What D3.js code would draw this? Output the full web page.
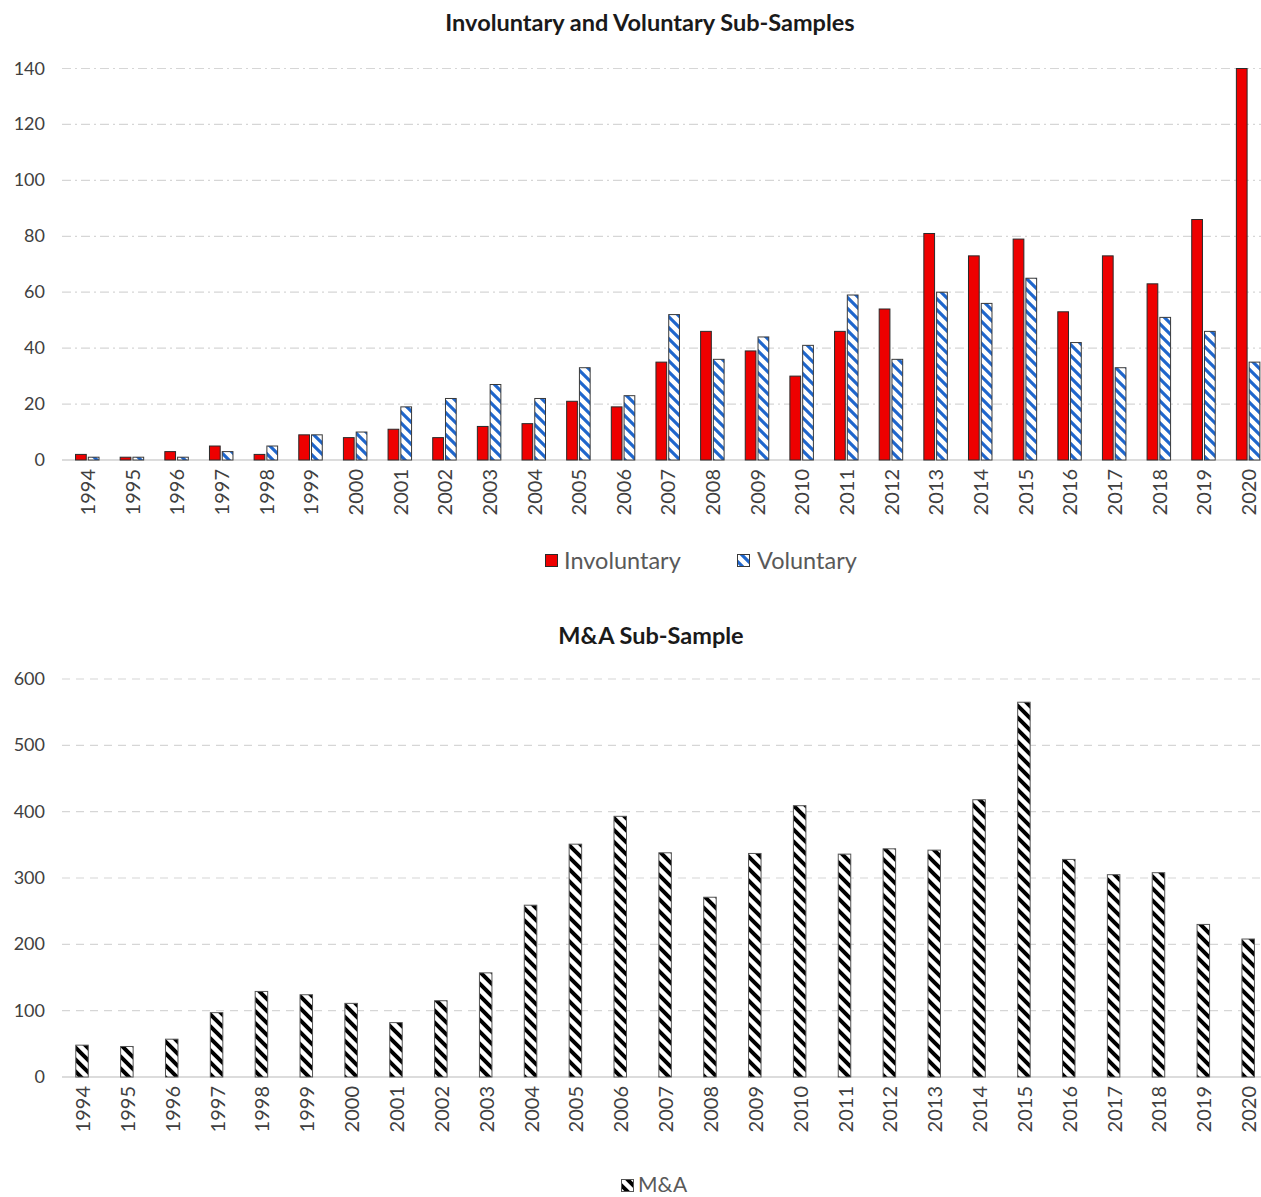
<!DOCTYPE html>
<html>
<head>
<meta charset="utf-8">
<script src="https://cdn.jsdelivr.net/npm/d3@7"></script>
<style>
  body { margin: 0; background: #ffffff; }
  text { font-family: Lato, 'Open Sans', sans-serif; }
</style>
</head>
<body>
<div id="visArea"></div>
<script>

var years = ['1994','1995','1996','1997','1998','1999','2000','2001','2002','2003','2004','2005','2006','2007',
             '2008','2009','2010','2011','2012','2013','2014','2015','2016','2017','2018','2019','2020'];

var involuntary = [2, 1, 3, 5, 2, 9, 8, 11, 8, 12, 13, 21, 19, 35, 46, 39, 30, 46, 54, 81, 73, 79, 53, 73, 63, 86, 140];
var voluntary   = [1, 1, 1, 3, 5, 9, 10, 19, 22, 27, 22, 33, 23, 52, 36, 44, 41, 59, 36, 60, 56, 65, 42, 33, 51, 46, 35];
var mna         = [48, 46, 57, 97, 129, 124, 111, 82, 115, 157, 259, 351, 393, 338, 271, 337, 409, 336, 344, 342,
                   418, 565, 328, 305, 308, 230, 208];

var topTicks = [0, 20, 40, 60, 80, 100, 120, 140];
var bottomTicks = [0, 100, 200, 300, 400, 500, 600];


function makeVis(){
  var svg = d3.select('#visArea')
              .append('svg')
              .attr('width', 1261)
              .attr('height', 1197);

  makePatterns(svg);
  drawTop(svg);
  drawBottom(svg);
}


function makePatterns(svg){
  var defs = svg.append('defs');

  // "\" stripes, blue on white
  var p1 = defs.append('pattern')
    .attr('id', 'volStripes')
    .attr('patternUnits', 'userSpaceOnUse')
    .attr('width', 11).attr('height', 11);
  p1.append('rect').attr('width', 11).attr('height', 11).attr('fill', '#ffffff');
  p1.append('path')
    .attr('d', 'M-3,-3 L14,14 M-3,8 L3,14 M8,-3 L14,3')
    .attr('stroke', '#1f66cc')
    .attr('stroke-width', 3.2);

  // "\" stripes, black on white
  var p2 = defs.append('pattern')
    .attr('id', 'mnaStripes')
    .attr('patternUnits', 'userSpaceOnUse')
    .attr('width', 12).attr('height', 12);
  p2.append('rect').attr('width', 12).attr('height', 12).attr('fill', '#ffffff');
  p2.append('path')
    .attr('d', 'M-3,-3 L15,15 M-3,9 L3,15 M9,-3 L15,3')
    .attr('stroke', '#000000')
    .attr('stroke-width', 4);
}


function drawGrid(g, y, ticks, dash, x0){
  g.append('g').attr('class', 'grid')
    .selectAll('line')
    .data(ticks.slice(1))
    .enter()
    .append('line')
    .attr('x1', x0).attr('x2', 1261)
    .attr('y1', function(d){ return y(d); })
    .attr('y2', function(d){ return y(d); })
    .style('stroke', '#d6d6d6')
    .style('stroke-width', 1.2)
    .style('stroke-dasharray', dash);

  g.append('line')
    .attr('x1', x0).attr('x2', 1261)
    .attr('y1', y(0)).attr('y2', y(0))
    .style('stroke', '#d0d0d0')
    .style('stroke-width', 1.5);

  g.append('g').attr('class', 'labels')
    .selectAll('text')
    .data(ticks)
    .enter()
    .append('text')
    .attr('x', 45)
    .attr('y', function(d){ return y(d) + 6; })
    .text(function(d){ return d; })
    .style('text-anchor', 'end')
    .style('font-size', '18px')
    .style('fill', '#404040');
}


function drawYears(g, x, ybase){
  g.append('g').attr('class', 'labels years')
    .selectAll('text')
    .data(years)
    .enter()
    .append('text')
    .attr('transform', function(d){
      return 'translate(' + (x(d) + x.bandwidth()/2 + 8) + ',' + ybase + ') rotate(-90)';
    })
    .text(function(d){ return d; })
    .style('text-anchor', 'end')
    .style('font-size', '20px')
    .style('fill', '#404040');
}


function drawTop(svg){
  var g = svg.append('g').attr('class', 'top');

  var x = d3.scaleBand().domain(years).range([64.7, 1270.2]);
  var y = d3.scaleLinear().domain([0, 140]).range([460, 68.5]);
  var series = ['inv', 'vol'];
  var xs = d3.scaleBand().domain(series).range([-11.5, 12]).paddingInner(0.16);

  g.append('text')
    .attr('x', 650).attr('y', 31)
    .text('Involuntary and Voluntary Sub-Samples')
    .style('text-anchor', 'middle')
    .style('font-size', '23.5px')
    .style('font-weight', 'bold')
    .style('fill', '#1a1a1a');

  drawGrid(g, y, topTicks, '9,4,2,4', 62);

  var cx = function(i){ return x(years[i]) + x.bandwidth()/2; };

  g.append('g').attr('class', 'bars inv')
    .selectAll('rect')
    .data(involuntary)
    .enter()
    .append('rect')
    .attr('x', function(d,i){ return cx(i) + xs('inv'); })
    .attr('y', function(d){ return y(d); })
    .attr('width', xs.bandwidth())
    .attr('height', function(d){ return y(0) - y(d); })
    .attr('fill', '#ee0000')
    .attr('stroke', '#2a2a2a')
    .attr('stroke-width', 1);

  g.append('g').attr('class', 'bars vol')
    .selectAll('rect')
    .data(voluntary)
    .enter()
    .append('rect')
    .attr('x', function(d,i){ return cx(i) + xs('vol'); })
    .attr('y', function(d){ return y(d); })
    .attr('width', xs.bandwidth())
    .attr('height', function(d){ return y(0) - y(d); })
    .attr('fill', 'url(#volStripes)')
    .attr('stroke', '#3a3a3a')
    .attr('stroke-width', 1);

  drawYears(g, x, 469);

  // legend
  var leg = g.append('g').attr('class', 'legend');
  leg.append('rect').attr('x', 545.5).attr('y', 554.5).attr('width', 12).attr('height', 12)
     .attr('fill', '#ee0000').attr('stroke', '#2a2a2a');
  leg.append('text').attr('x', 564).attr('y', 569).text('Involuntary')
     .style('font-size', '23.5px').style('fill', '#595959');
  leg.append('rect').attr('x', 737.5).attr('y', 554.5).attr('width', 12).attr('height', 12)
     .attr('fill', 'url(#volStripes)').attr('stroke', '#3a3a3a');
  leg.append('text').attr('x', 757).attr('y', 569).text('Voluntary')
     .style('font-size', '23.5px').style('fill', '#595959');
}


function drawBottom(svg){
  var g = svg.append('g').attr('class', 'bottom');

  var x = d3.scaleBand().domain(years).range([59.6, 1270.6]);
  var y = d3.scaleLinear().domain([0, 600]).range([1077, 679]);
  var bw = 12.5;

  g.append('text')
    .attr('x', 651).attr('y', 644)
    .text('M&A Sub-Sample')
    .style('text-anchor', 'middle')
    .style('font-size', '23.5px')
    .style('font-weight', 'bold')
    .style('fill', '#1a1a1a');

  drawGrid(g, y, bottomTicks, '8,6', 62);

  g.append('g').attr('class', 'bars mna')
    .selectAll('rect')
    .data(mna)
    .enter()
    .append('rect')
    .attr('x', function(d,i){ return x(years[i]) + x.bandwidth()/2 - bw/2; })
    .attr('y', function(d){ return y(d); })
    .attr('width', bw)
    .attr('height', function(d){ return y(0) - y(d); })
    .attr('fill', 'url(#mnaStripes)')
    .attr('stroke', '#555555')
    .attr('stroke-width', 1);

  drawYears(g, x, 1086);

  var leg = g.append('g').attr('class', 'legend');
  leg.append('rect').attr('x', 621.5).attr('y', 1179.5).attr('width', 12).attr('height', 12)
     .attr('fill', 'url(#mnaStripes)').attr('stroke', '#555555');
  leg.append('text').attr('x', 638).attr('y', 1192).text('M&A')
     .style('font-size', '21px').style('fill', '#595959');
}


makeVis();
</script>
</body>
</html>
